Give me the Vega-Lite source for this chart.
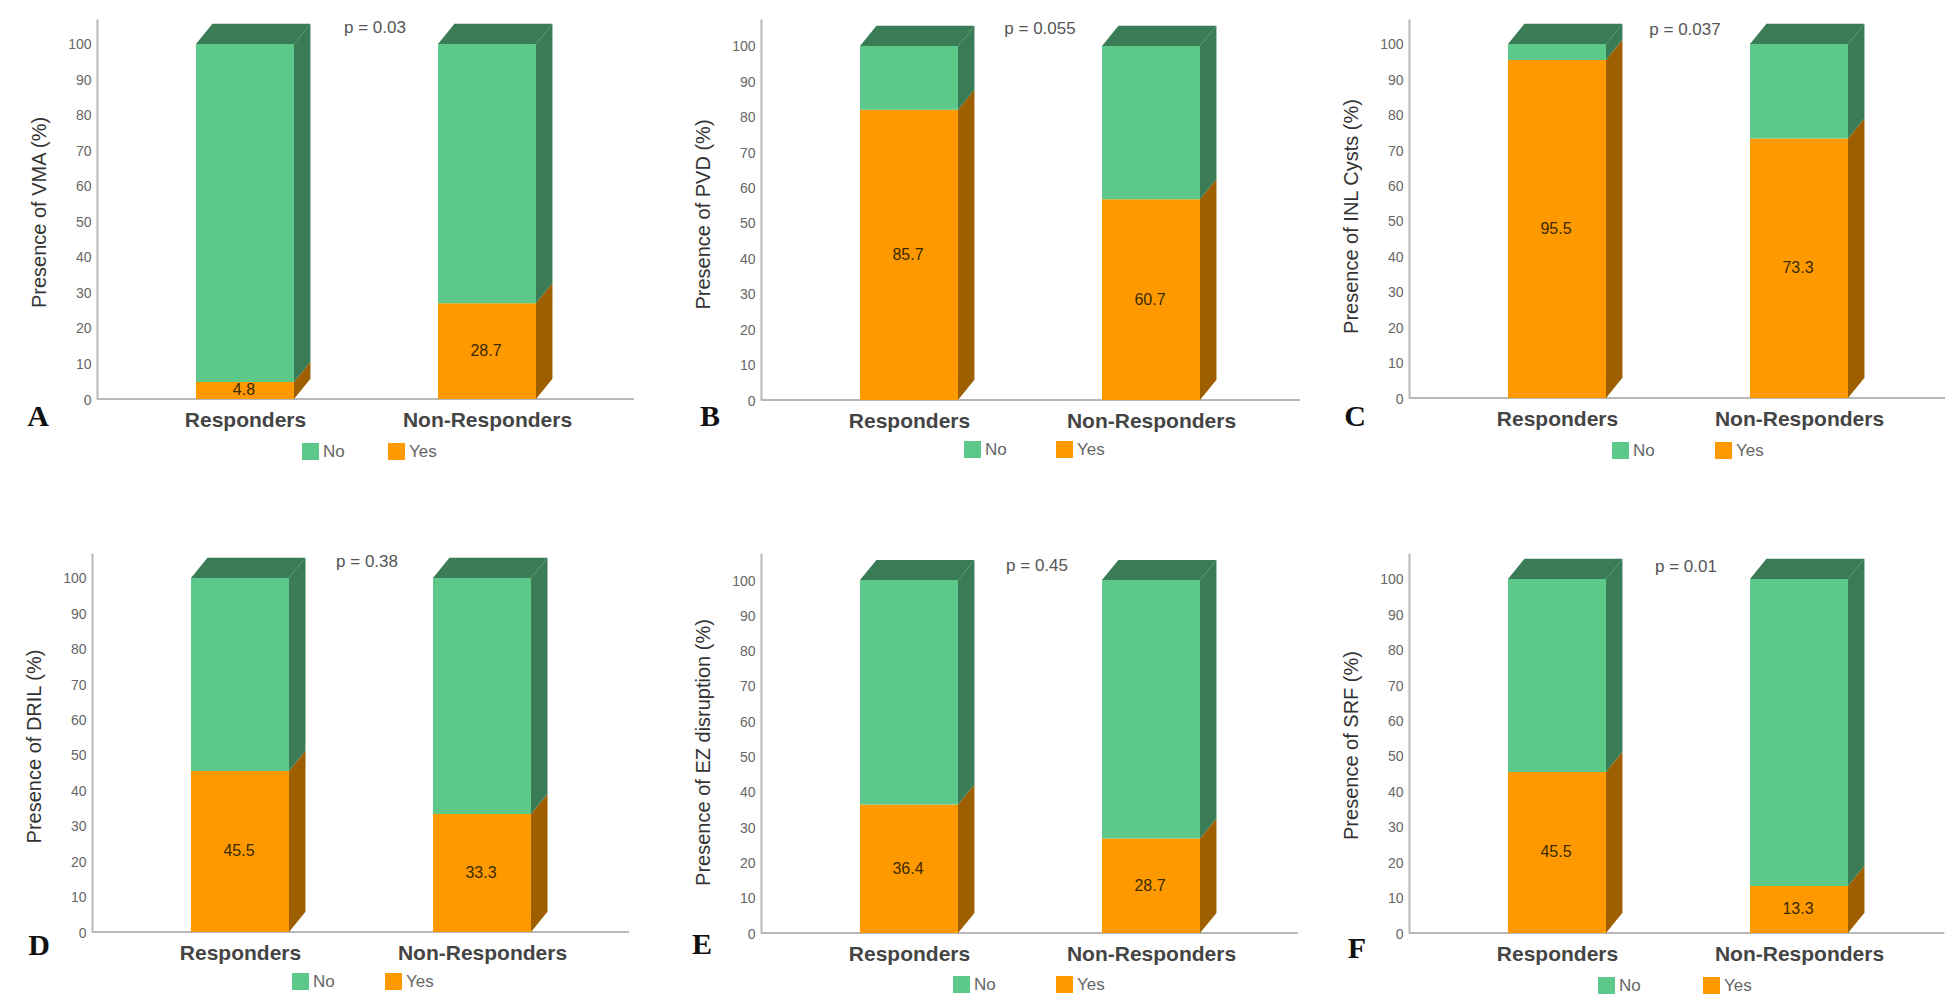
{"$schema":"https://vega.github.io/schema/vega-lite/v6.json","padding":{"left":24,"top":19,"right":0,"bottom":0},"background":"#ffffff","config":{"view":{"stroke":null},"font":"Liberation Sans","axis":{"grid":false}},"columns":3,"align":"none","bounds":"flush","spacing":{"row":153,"column":100},"resolve":{"scale":{"color":"independent"},"legend":{"color":"independent"}},"concat":[
{"width":568,"height":380,"resolve":{"axis":{"x":"independent","y":"independent"}},"data":{"values":[{"group":"Responders","status":"Yes","low":0,"high":4.8,"label":"4.8"},{"group":"Responders","status":"No","low":4.8,"high":100,"label":""},{"group":"Non-Responders","status":"Yes","low":0,"high":27,"label":"28.7"},{"group":"Non-Responders","status":"No","low":27,"high":100,"label":""}]},"transform":[{"calculate":"datum.group==='Responders'?1:2","as":"pos"},{"calculate":"datum.pos-0.2025","as":"xl"},{"calculate":"datum.pos+0.2025","as":"xr"},{"calculate":"datum.group+datum.status","as":"key"}],"layer":[
{"mark":{"type":"rule","color":"#B8B8B8","strokeWidth":2},"data":{"values":[{}]},"encoding":{"x":{"datum":0.3884,"type":"quantitative","axis":null},"x2":{"datum":2.607},"y":{"datum":0,"type":"quantitative","axis":null}}},
{"mark":{"type":"area"},"transform":[{"calculate":"datum.xr","as":"e0"},{"calculate":"datum.xr+0.068","as":"e1"},{"fold":["e0","e1"],"as":["edge","xv"]},{"calculate":"datum.low+(datum.edge==='e1'?5.7:0)","as":"a"},{"calculate":"datum.high+(datum.edge==='e1'?5.7:0)","as":"b"}],"encoding":{"x":{"field":"xv","type":"quantitative","axis":null},"y":{"field":"a","type":"quantitative","axis":null,"stack":null},"y2":{"field":"b"},"detail":{"field":"key"},"color":{"condition":{"test":"datum.status==='Yes'","value":"#9E5F00"},"value":"#3A7C55"}}},
{"mark":{"type":"area","color":"#3A7C55"},"transform":[{"filter":"datum.status==='No'"},{"calculate":"datum.xl","as":"p0"},{"calculate":"datum.xl+0.068","as":"p1"},{"calculate":"datum.xr","as":"p2"},{"calculate":"datum.xr+0.068","as":"p3"},{"fold":["p0","p1","p2","p3"],"as":["edge","xv"]},{"calculate":"datum.edge==='p3'?105.7:100","as":"a"},{"calculate":"datum.edge==='p0'?100:105.7","as":"b"}],"encoding":{"x":{"field":"xv","type":"quantitative","axis":null},"y":{"field":"a","type":"quantitative","axis":null,"stack":null},"y2":{"field":"b"},"detail":{"field":"key"}}},
{"mark":{"type":"rect"},"encoding":{"x":{"field":"xl","type":"quantitative","scale":{"domain":[0.3678,2.715],"nice":false,"zero":false},"axis":{"title":null,"values":[1,2],"labelExpr":"datum.value===1?'Responders':'Non-Responders'","labelFontSize":21,"labelFontWeight":"bold","labelColor":"#444444","labelPadding":10,"domain":false,"ticks":false,"labelOverlap":false,"labelFlush":false}},"x2":{"field":"xr"},"y":{"field":"low","type":"quantitative","scale":{"domain":[0,107.04],"nice":false,"zero":false},"axis":{"title":"Presence of VMA (%)","offset":-5,"values":[0,10,20,30,40,50,60,70,80,90,100],"labelFontSize":14,"labelColor":"#666666","labelPadding":6,"labelOffset":1,"ticks":false,"domainColor":"#B8B8B8","domainWidth":2,"titleFontSize":20,"titleFontWeight":"normal","titleColor":"#333333","titleX":-58,"titleY":193,"titleBaseline":"middle","titleAlign":"center"}},"y2":{"field":"high"},"color":{"field":"status","type":"nominal","scale":{"domain":["No","Yes"],"range":["#5CC98A","#FF9900"]},"legend":{"orient":"none","legendX":210,"legendY":424,"columns":2,"columnPadding":43,"title":null,"symbolType":"square","symbolSize":289,"symbolStrokeWidth":0,"labelFontSize":17,"labelColor":"#666666","padding":0,"labelOffset":4}}}},
{"mark":{"type":"text","fontSize":16,"color":"#3A2A00","dx":-1},"transform":[{"filter":"datum.status==='Yes'"},{"calculate":"(datum.low+datum.high)/2","as":"mid"}],"encoding":{"x":{"field":"pos","type":"quantitative","axis":null},"y":{"field":"mid","type":"quantitative","axis":null},"text":{"field":"label"}}},
{"mark":{"type":"text","fontSize":17,"color":"#555555","text":"p = 0.03"},"data":{"values":[{}]},"encoding":{"x":{"datum":1.5372,"type":"quantitative","axis":null},"y":{"datum":104.5,"type":"quantitative","axis":null}}},
{"mark":{"type":"text","fontSize":30,"fontWeight":"bold","font":"Liberation Serif","color":"#111111","text":"A"},"data":{"values":[{}]},"encoding":{"x":{"datum":0.1447,"type":"quantitative","axis":null},"y":{"datum":-5,"type":"quantitative","axis":null}}}]},
{"width":548,"height":381,"resolve":{"axis":{"x":"independent","y":"independent"}},"data":{"values":[{"group":"Responders","status":"Yes","low":0,"high":82,"label":"85.7"},{"group":"Responders","status":"No","low":82,"high":100,"label":""},{"group":"Non-Responders","status":"Yes","low":0,"high":56.7,"label":"60.7"},{"group":"Non-Responders","status":"No","low":56.7,"high":100,"label":""}]},"transform":[{"calculate":"datum.group==='Responders'?1:2","as":"pos"},{"calculate":"datum.pos-0.2025","as":"xl"},{"calculate":"datum.pos+0.2025","as":"xr"},{"calculate":"datum.group+datum.status","as":"key"}],"layer":[
{"mark":{"type":"rule","color":"#B8B8B8","strokeWidth":2},"data":{"values":[{}]},"encoding":{"x":{"datum":0.3884,"type":"quantitative","axis":null},"x2":{"datum":2.6157},"y":{"datum":0,"type":"quantitative","axis":null}}},
{"mark":{"type":"area"},"transform":[{"calculate":"datum.xr","as":"e0"},{"calculate":"datum.xr+0.068","as":"e1"},{"fold":["e0","e1"],"as":["edge","xv"]},{"calculate":"datum.low+(datum.edge==='e1'?5.7:0)","as":"a"},{"calculate":"datum.high+(datum.edge==='e1'?5.7:0)","as":"b"}],"encoding":{"x":{"field":"xv","type":"quantitative","axis":null},"y":{"field":"a","type":"quantitative","axis":null,"stack":null},"y2":{"field":"b"},"detail":{"field":"key"},"color":{"condition":{"test":"datum.status==='Yes'","value":"#9E5F00"},"value":"#3A7C55"}}},
{"mark":{"type":"area","color":"#3A7C55"},"transform":[{"filter":"datum.status==='No'"},{"calculate":"datum.xl","as":"p0"},{"calculate":"datum.xl+0.068","as":"p1"},{"calculate":"datum.xr","as":"p2"},{"calculate":"datum.xr+0.068","as":"p3"},{"fold":["p0","p1","p2","p3"],"as":["edge","xv"]},{"calculate":"datum.edge==='p3'?105.7:100","as":"a"},{"calculate":"datum.edge==='p0'?100:105.7","as":"b"}],"encoding":{"x":{"field":"xv","type":"quantitative","axis":null},"y":{"field":"a","type":"quantitative","axis":null,"stack":null},"y2":{"field":"b"},"detail":{"field":"key"}}},
{"mark":{"type":"rect"},"encoding":{"x":{"field":"xl","type":"quantitative","scale":{"domain":[0.3884,2.6529],"nice":false,"zero":false},"axis":{"title":null,"values":[1,2],"labelExpr":"datum.value===1?'Responders':'Non-Responders'","labelFontSize":21,"labelFontWeight":"bold","labelColor":"#444444","labelPadding":10,"domain":false,"ticks":false,"labelOverlap":false,"labelFlush":false}},"x2":{"field":"xr"},"y":{"field":"low","type":"quantitative","scale":{"domain":[0,107.6],"nice":false,"zero":false},"axis":{"title":"Presence of PVD (%)","values":[0,10,20,30,40,50,60,70,80,90,100],"labelFontSize":14,"labelColor":"#666666","labelPadding":6,"labelOffset":1,"ticks":false,"domainColor":"#B8B8B8","domainWidth":2,"titleFontSize":20,"titleFontWeight":"normal","titleColor":"#333333","titleX":-58,"titleY":195,"titleBaseline":"middle","titleAlign":"center"}},"y2":{"field":"high"},"color":{"field":"status","type":"nominal","scale":{"domain":["No","Yes"],"range":["#5CC98A","#FF9900"]},"legend":{"orient":"none","legendX":203,"legendY":422,"columns":2,"columnPadding":49,"title":null,"symbolType":"square","symbolSize":289,"symbolStrokeWidth":0,"labelFontSize":17,"labelColor":"#666666","padding":0,"labelOffset":4}}}},
{"mark":{"type":"text","fontSize":16,"color":"#3A2A00","dx":-1},"transform":[{"filter":"datum.status==='Yes'"},{"calculate":"(datum.low+datum.high)/2","as":"mid"}],"encoding":{"x":{"field":"pos","type":"quantitative","axis":null},"y":{"field":"mid","type":"quantitative","axis":null},"text":{"field":"label"}}},
{"mark":{"type":"text","fontSize":17,"color":"#555555","text":"p = 0.055"},"data":{"values":[{}]},"encoding":{"x":{"datum":1.5413,"type":"quantitative","axis":null},"y":{"datum":104.8,"type":"quantitative","axis":null}}},
{"mark":{"type":"text","fontSize":30,"fontWeight":"bold","font":"Liberation Serif","color":"#111111","text":"B"},"data":{"values":[{}]},"encoding":{"x":{"datum":0.1777,"type":"quantitative","axis":null},"y":{"datum":-4.8,"type":"quantitative","axis":null}}}]},
{"width":536,"height":379,"resolve":{"axis":{"x":"independent","y":"independent"}},"data":{"values":[{"group":"Responders","status":"Yes","low":0,"high":95.5,"label":"95.5"},{"group":"Responders","status":"No","low":95.5,"high":100,"label":""},{"group":"Non-Responders","status":"Yes","low":0,"high":73.3,"label":"73.3"},{"group":"Non-Responders","status":"No","low":73.3,"high":100,"label":""}]},"transform":[{"calculate":"datum.group==='Responders'?1:2","as":"pos"},{"calculate":"datum.pos-0.2025","as":"xl"},{"calculate":"datum.pos+0.2025","as":"xr"},{"calculate":"datum.group+datum.status","as":"key"}],"layer":[
{"mark":{"type":"rule","color":"#B8B8B8","strokeWidth":2},"data":{"values":[{}]},"encoding":{"x":{"datum":0.3884,"type":"quantitative","axis":null},"x2":{"datum":2.6033},"y":{"datum":0,"type":"quantitative","axis":null}}},
{"mark":{"type":"area"},"transform":[{"calculate":"datum.xr","as":"e0"},{"calculate":"datum.xr+0.068","as":"e1"},{"fold":["e0","e1"],"as":["edge","xv"]},{"calculate":"datum.low+(datum.edge==='e1'?5.7:0)","as":"a"},{"calculate":"datum.high+(datum.edge==='e1'?5.7:0)","as":"b"}],"encoding":{"x":{"field":"xv","type":"quantitative","axis":null},"y":{"field":"a","type":"quantitative","axis":null,"stack":null},"y2":{"field":"b"},"detail":{"field":"key"},"color":{"condition":{"test":"datum.status==='Yes'","value":"#9E5F00"},"value":"#3A7C55"}}},
{"mark":{"type":"area","color":"#3A7C55"},"transform":[{"filter":"datum.status==='No'"},{"calculate":"datum.xl","as":"p0"},{"calculate":"datum.xl+0.068","as":"p1"},{"calculate":"datum.xr","as":"p2"},{"calculate":"datum.xr+0.068","as":"p3"},{"fold":["p0","p1","p2","p3"],"as":["edge","xv"]},{"calculate":"datum.edge==='p3'?105.7:100","as":"a"},{"calculate":"datum.edge==='p0'?100:105.7","as":"b"}],"encoding":{"x":{"field":"xv","type":"quantitative","axis":null},"y":{"field":"a","type":"quantitative","axis":null,"stack":null},"y2":{"field":"b"},"detail":{"field":"key"}}},
{"mark":{"type":"rect"},"encoding":{"x":{"field":"xl","type":"quantitative","scale":{"domain":[0.3884,2.6033],"nice":false,"zero":false},"axis":{"title":null,"values":[1,2],"labelExpr":"datum.value===1?'Responders':'Non-Responders'","labelFontSize":21,"labelFontWeight":"bold","labelColor":"#444444","labelPadding":10,"domain":false,"ticks":false,"labelOverlap":false,"labelFlush":false}},"x2":{"field":"xr"},"y":{"field":"low","type":"quantitative","scale":{"domain":[0,107.06],"nice":false,"zero":false},"axis":{"title":"Presence of INL Cysts (%)","values":[0,10,20,30,40,50,60,70,80,90,100],"labelFontSize":14,"labelColor":"#666666","labelPadding":6,"labelOffset":1,"ticks":false,"domainColor":"#B8B8B8","domainWidth":2,"titleFontSize":20,"titleFontWeight":"normal","titleColor":"#333333","titleX":-58,"titleY":197,"titleBaseline":"middle","titleAlign":"center"}},"y2":{"field":"high"},"color":{"field":"status","type":"nominal","scale":{"domain":["No","Yes"],"range":["#5CC98A","#FF9900"]},"legend":{"orient":"none","legendX":203,"legendY":423,"columns":2,"columnPadding":60,"title":null,"symbolType":"square","symbolSize":289,"symbolStrokeWidth":0,"labelFontSize":17,"labelColor":"#666666","padding":0,"labelOffset":4}}}},
{"mark":{"type":"text","fontSize":16,"color":"#3A2A00","dx":-1},"transform":[{"filter":"datum.status==='Yes'"},{"calculate":"(datum.low+datum.high)/2","as":"mid"}],"encoding":{"x":{"field":"pos","type":"quantitative","axis":null},"y":{"field":"mid","type":"quantitative","axis":null},"text":{"field":"label"}}},
{"mark":{"type":"text","fontSize":17,"color":"#555555","text":"p = 0.037"},"data":{"values":[{}]},"encoding":{"x":{"datum":1.5289,"type":"quantitative","axis":null},"y":{"datum":104,"type":"quantitative","axis":null}}},
{"mark":{"type":"text","fontSize":30,"fontWeight":"bold","font":"Liberation Serif","color":"#111111","text":"C"},"data":{"values":[{}]},"encoding":{"x":{"datum":0.1653,"type":"quantitative","axis":null},"y":{"datum":-5.4,"type":"quantitative","axis":null}}}]},
{"width":569,"height":379,"resolve":{"axis":{"x":"independent","y":"independent"}},"data":{"values":[{"group":"Responders","status":"Yes","low":0,"high":45.5,"label":"45.5"},{"group":"Responders","status":"No","low":45.5,"high":100,"label":""},{"group":"Non-Responders","status":"Yes","low":0,"high":33.3,"label":"33.3"},{"group":"Non-Responders","status":"No","low":33.3,"high":100,"label":""}]},"transform":[{"calculate":"datum.group==='Responders'?1:2","as":"pos"},{"calculate":"datum.pos-0.2025","as":"xl"},{"calculate":"datum.pos+0.2025","as":"xr"},{"calculate":"datum.group+datum.status","as":"key"}],"layer":[
{"mark":{"type":"rule","color":"#B8B8B8","strokeWidth":2},"data":{"values":[{}]},"encoding":{"x":{"datum":0.3884,"type":"quantitative","axis":null},"x2":{"datum":2.607},"y":{"datum":0,"type":"quantitative","axis":null}}},
{"mark":{"type":"area"},"transform":[{"calculate":"datum.xr","as":"e0"},{"calculate":"datum.xr+0.068","as":"e1"},{"fold":["e0","e1"],"as":["edge","xv"]},{"calculate":"datum.low+(datum.edge==='e1'?5.7:0)","as":"a"},{"calculate":"datum.high+(datum.edge==='e1'?5.7:0)","as":"b"}],"encoding":{"x":{"field":"xv","type":"quantitative","axis":null},"y":{"field":"a","type":"quantitative","axis":null,"stack":null},"y2":{"field":"b"},"detail":{"field":"key"},"color":{"condition":{"test":"datum.status==='Yes'","value":"#9E5F00"},"value":"#3A7C55"}}},
{"mark":{"type":"area","color":"#3A7C55"},"transform":[{"filter":"datum.status==='No'"},{"calculate":"datum.xl","as":"p0"},{"calculate":"datum.xl+0.068","as":"p1"},{"calculate":"datum.xr","as":"p2"},{"calculate":"datum.xr+0.068","as":"p3"},{"fold":["p0","p1","p2","p3"],"as":["edge","xv"]},{"calculate":"datum.edge==='p3'?105.7:100","as":"a"},{"calculate":"datum.edge==='p0'?100:105.7","as":"b"}],"encoding":{"x":{"field":"xv","type":"quantitative","axis":null},"y":{"field":"a","type":"quantitative","axis":null,"stack":null},"y2":{"field":"b"},"detail":{"field":"key"}}},
{"mark":{"type":"rect"},"encoding":{"x":{"field":"xl","type":"quantitative","scale":{"domain":[0.3884,2.7396],"nice":false,"zero":false},"axis":{"title":null,"values":[1,2],"labelExpr":"datum.value===1?'Responders':'Non-Responders'","labelFontSize":21,"labelFontWeight":"bold","labelColor":"#444444","labelPadding":10,"domain":false,"ticks":false,"labelOverlap":false,"labelFlush":false}},"x2":{"field":"xr"},"y":{"field":"low","type":"quantitative","scale":{"domain":[0,107.06],"nice":false,"zero":false},"axis":{"title":"Presence of DRIL (%)","values":[0,10,20,30,40,50,60,70,80,90,100],"labelFontSize":14,"labelColor":"#666666","labelPadding":6,"labelOffset":1,"ticks":false,"domainColor":"#B8B8B8","domainWidth":2,"titleFontSize":20,"titleFontWeight":"normal","titleColor":"#333333","titleX":-58,"titleY":193,"titleBaseline":"middle","titleAlign":"center"}},"y2":{"field":"high"},"color":{"field":"status","type":"nominal","scale":{"domain":["No","Yes"],"range":["#5CC98A","#FF9900"]},"legend":{"orient":"none","legendX":200,"legendY":420,"columns":2,"columnPadding":50,"title":null,"symbolType":"square","symbolSize":289,"symbolStrokeWidth":0,"labelFontSize":17,"labelColor":"#666666","padding":0,"labelOffset":4}}}},
{"mark":{"type":"text","fontSize":16,"color":"#3A2A00","dx":-1},"transform":[{"filter":"datum.status==='Yes'"},{"calculate":"(datum.low+datum.high)/2","as":"mid"}],"encoding":{"x":{"field":"pos","type":"quantitative","axis":null},"y":{"field":"mid","type":"quantitative","axis":null},"text":{"field":"label"}}},
{"mark":{"type":"text","fontSize":17,"color":"#555555","text":"p = 0.38"},"data":{"values":[{}]},"encoding":{"x":{"datum":1.5248,"type":"quantitative","axis":null},"y":{"datum":104.5,"type":"quantitative","axis":null}}},
{"mark":{"type":"text","fontSize":30,"fontWeight":"bold","font":"Liberation Serif","color":"#111111","text":"D"},"data":{"values":[{}]},"encoding":{"x":{"datum":0.1694,"type":"quantitative","axis":null},"y":{"datum":-4,"type":"quantitative","axis":null}}}]},
{"width":544,"height":380,"resolve":{"axis":{"x":"independent","y":"independent"}},"data":{"values":[{"group":"Responders","status":"Yes","low":0,"high":36.4,"label":"36.4"},{"group":"Responders","status":"No","low":36.4,"high":100,"label":""},{"group":"Non-Responders","status":"Yes","low":0,"high":26.8,"label":"28.7"},{"group":"Non-Responders","status":"No","low":26.8,"high":100,"label":""}]},"transform":[{"calculate":"datum.group==='Responders'?1:2","as":"pos"},{"calculate":"datum.pos-0.2025","as":"xl"},{"calculate":"datum.pos+0.2025","as":"xr"},{"calculate":"datum.group+datum.status","as":"key"}],"layer":[
{"mark":{"type":"rule","color":"#B8B8B8","strokeWidth":2},"data":{"values":[{}]},"encoding":{"x":{"datum":0.3884,"type":"quantitative","axis":null},"x2":{"datum":2.607},"y":{"datum":0,"type":"quantitative","axis":null}}},
{"mark":{"type":"area"},"transform":[{"calculate":"datum.xr","as":"e0"},{"calculate":"datum.xr+0.068","as":"e1"},{"fold":["e0","e1"],"as":["edge","xv"]},{"calculate":"datum.low+(datum.edge==='e1'?5.7:0)","as":"a"},{"calculate":"datum.high+(datum.edge==='e1'?5.7:0)","as":"b"}],"encoding":{"x":{"field":"xv","type":"quantitative","axis":null},"y":{"field":"a","type":"quantitative","axis":null,"stack":null},"y2":{"field":"b"},"detail":{"field":"key"},"color":{"condition":{"test":"datum.status==='Yes'","value":"#9E5F00"},"value":"#3A7C55"}}},
{"mark":{"type":"area","color":"#3A7C55"},"transform":[{"filter":"datum.status==='No'"},{"calculate":"datum.xl","as":"p0"},{"calculate":"datum.xl+0.068","as":"p1"},{"calculate":"datum.xr","as":"p2"},{"calculate":"datum.xr+0.068","as":"p3"},{"fold":["p0","p1","p2","p3"],"as":["edge","xv"]},{"calculate":"datum.edge==='p3'?105.7:100","as":"a"},{"calculate":"datum.edge==='p0'?100:105.7","as":"b"}],"encoding":{"x":{"field":"xv","type":"quantitative","axis":null},"y":{"field":"a","type":"quantitative","axis":null,"stack":null},"y2":{"field":"b"},"detail":{"field":"key"}}},
{"mark":{"type":"rect"},"encoding":{"x":{"field":"xl","type":"quantitative","scale":{"domain":[0.3884,2.6364],"nice":false,"zero":false},"axis":{"title":null,"values":[1,2],"labelExpr":"datum.value===1?'Responders':'Non-Responders'","labelFontSize":21,"labelFontWeight":"bold","labelColor":"#444444","labelPadding":10,"domain":false,"ticks":false,"labelOverlap":false,"labelFlush":false}},"x2":{"field":"xr"},"y":{"field":"low","type":"quantitative","scale":{"domain":[0,107.65],"nice":false,"zero":false},"axis":{"title":"Presence of EZ disruption (%)","values":[0,10,20,30,40,50,60,70,80,90,100],"labelFontSize":14,"labelColor":"#666666","labelPadding":6,"labelOffset":1,"ticks":false,"domainColor":"#B8B8B8","domainWidth":2,"titleFontSize":20,"titleFontWeight":"normal","titleColor":"#333333","titleX":-58,"titleY":199,"titleBaseline":"middle","titleAlign":"center"}},"y2":{"field":"high"},"color":{"field":"status","type":"nominal","scale":{"domain":["No","Yes"],"range":["#5CC98A","#FF9900"]},"legend":{"orient":"none","legendX":192,"legendY":423,"columns":2,"columnPadding":60,"title":null,"symbolType":"square","symbolSize":289,"symbolStrokeWidth":0,"labelFontSize":17,"labelColor":"#666666","padding":0,"labelOffset":4}}}},
{"mark":{"type":"text","fontSize":16,"color":"#3A2A00","dx":-1},"transform":[{"filter":"datum.status==='Yes'"},{"calculate":"(datum.low+datum.high)/2","as":"mid"}],"encoding":{"x":{"field":"pos","type":"quantitative","axis":null},"y":{"field":"mid","type":"quantitative","axis":null},"text":{"field":"label"}}},
{"mark":{"type":"text","fontSize":17,"color":"#555555","text":"p = 0.45"},"data":{"values":[{}]},"encoding":{"x":{"datum":1.529,"type":"quantitative","axis":null},"y":{"datum":104,"type":"quantitative","axis":null}}},
{"mark":{"type":"text","fontSize":30,"fontWeight":"bold","font":"Liberation Serif","color":"#111111","text":"E"},"data":{"values":[{}]},"encoding":{"x":{"datum":0.1446,"type":"quantitative","axis":null},"y":{"datum":-3.4,"type":"quantitative","axis":null}}}]},
{"width":536,"height":380,"resolve":{"axis":{"x":"independent","y":"independent"}},"data":{"values":[{"group":"Responders","status":"Yes","low":0,"high":45.5,"label":"45.5"},{"group":"Responders","status":"No","low":45.5,"high":100,"label":""},{"group":"Non-Responders","status":"Yes","low":0,"high":13.3,"label":"13.3"},{"group":"Non-Responders","status":"No","low":13.3,"high":100,"label":""}]},"transform":[{"calculate":"datum.group==='Responders'?1:2","as":"pos"},{"calculate":"datum.pos-0.2025","as":"xl"},{"calculate":"datum.pos+0.2025","as":"xr"},{"calculate":"datum.group+datum.status","as":"key"}],"layer":[
{"mark":{"type":"rule","color":"#B8B8B8","strokeWidth":2},"data":{"values":[{}]},"encoding":{"x":{"datum":0.3884,"type":"quantitative","axis":null},"x2":{"datum":2.601},"y":{"datum":0,"type":"quantitative","axis":null}}},
{"mark":{"type":"area"},"transform":[{"calculate":"datum.xr","as":"e0"},{"calculate":"datum.xr+0.068","as":"e1"},{"fold":["e0","e1"],"as":["edge","xv"]},{"calculate":"datum.low+(datum.edge==='e1'?5.7:0)","as":"a"},{"calculate":"datum.high+(datum.edge==='e1'?5.7:0)","as":"b"}],"encoding":{"x":{"field":"xv","type":"quantitative","axis":null},"y":{"field":"a","type":"quantitative","axis":null,"stack":null},"y2":{"field":"b"},"detail":{"field":"key"},"color":{"condition":{"test":"datum.status==='Yes'","value":"#9E5F00"},"value":"#3A7C55"}}},
{"mark":{"type":"area","color":"#3A7C55"},"transform":[{"filter":"datum.status==='No'"},{"calculate":"datum.xl","as":"p0"},{"calculate":"datum.xl+0.068","as":"p1"},{"calculate":"datum.xr","as":"p2"},{"calculate":"datum.xr+0.068","as":"p3"},{"fold":["p0","p1","p2","p3"],"as":["edge","xv"]},{"calculate":"datum.edge==='p3'?105.7:100","as":"a"},{"calculate":"datum.edge==='p0'?100:105.7","as":"b"}],"encoding":{"x":{"field":"xv","type":"quantitative","axis":null},"y":{"field":"a","type":"quantitative","axis":null,"stack":null},"y2":{"field":"b"},"detail":{"field":"key"}}},
{"mark":{"type":"rect"},"encoding":{"x":{"field":"xl","type":"quantitative","scale":{"domain":[0.3884,2.6033],"nice":false,"zero":false},"axis":{"title":null,"values":[1,2],"labelExpr":"datum.value===1?'Responders':'Non-Responders'","labelFontSize":21,"labelFontWeight":"bold","labelColor":"#444444","labelPadding":10,"domain":false,"ticks":false,"labelOverlap":false,"labelFlush":false}},"x2":{"field":"xr"},"y":{"field":"low","type":"quantitative","scale":{"domain":[0,107.34],"nice":false,"zero":false},"axis":{"title":"Presence of SRF (%)","values":[0,10,20,30,40,50,60,70,80,90,100],"labelFontSize":14,"labelColor":"#666666","labelPadding":6,"labelOffset":1,"ticks":false,"domainColor":"#B8B8B8","domainWidth":2,"titleFontSize":20,"titleFontWeight":"normal","titleColor":"#333333","titleX":-58,"titleY":192,"titleBaseline":"middle","titleAlign":"center"}},"y2":{"field":"high"},"color":{"field":"status","type":"nominal","scale":{"domain":["No","Yes"],"range":["#5CC98A","#FF9900"]},"legend":{"orient":"none","legendX":189,"legendY":424,"columns":2,"columnPadding":62,"title":null,"symbolType":"square","symbolSize":289,"symbolStrokeWidth":0,"labelFontSize":17,"labelColor":"#666666","padding":0,"labelOffset":4}}}},
{"mark":{"type":"text","fontSize":16,"color":"#3A2A00","dx":-1},"transform":[{"filter":"datum.status==='Yes'"},{"calculate":"(datum.low+datum.high)/2","as":"mid"}],"encoding":{"x":{"field":"pos","type":"quantitative","axis":null},"y":{"field":"mid","type":"quantitative","axis":null},"text":{"field":"label"}}},
{"mark":{"type":"text","fontSize":17,"color":"#555555","text":"p = 0.01"},"data":{"values":[{}]},"encoding":{"x":{"datum":1.533,"type":"quantitative","axis":null},"y":{"datum":103.3,"type":"quantitative","axis":null}}},
{"mark":{"type":"text","fontSize":30,"fontWeight":"bold","font":"Liberation Serif","color":"#111111","text":"F"},"data":{"values":[{}]},"encoding":{"x":{"datum":0.1735,"type":"quantitative","axis":null},"y":{"datum":-4.5,"type":"quantitative","axis":null}}}]}
]}
